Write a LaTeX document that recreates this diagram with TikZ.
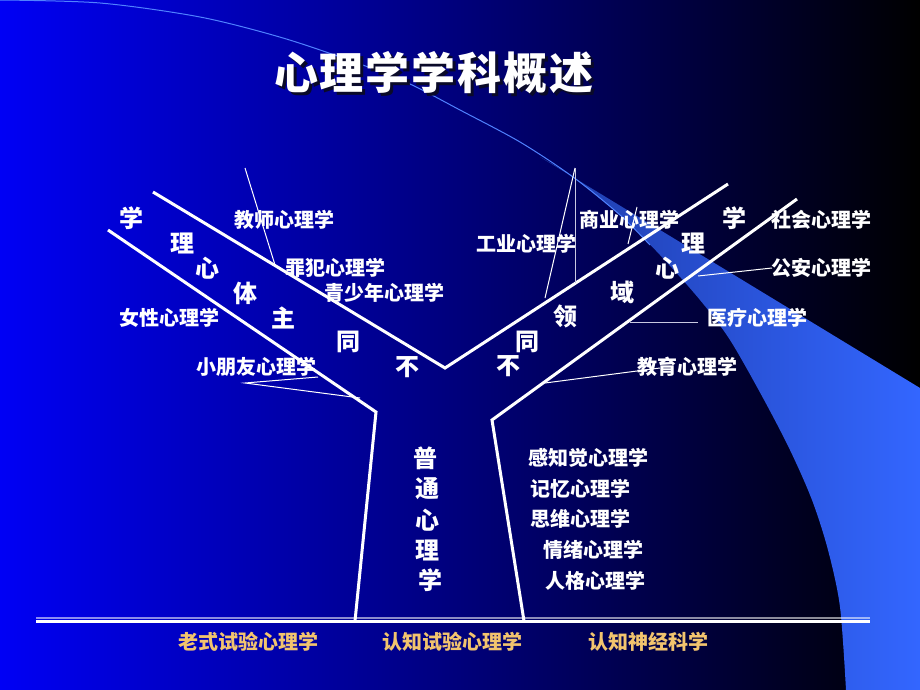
\documentclass[tikz,border=0pt]{standalone}
\usepackage{fontspec}
\newfontfamily\cjk{Noto Sans CJK SC}
\definecolor{bgL}{RGB}{0,0,245}
\definecolor{bgM}{RGB}{0,0,165}
\definecolor{bandL}{RGB}{30,60,170}
\definecolor{bandR}{RGB}{51,102,255}
\definecolor{bandLine}{RGB}{80,130,255}
\definecolor{goldc}{RGB}{242,196,110}
\definecolor{thinGray}{RGB}{200,200,225}
\definecolor{shadowc}{RGB}{10,10,40}
\newcommand{\ttltext}{心\kern2pt 理\kern2pt 学\kern2pt 学\kern2pt 科\kern2pt 概\kern2pt 述}
\begin{document}
\begin{tikzpicture}[x=1pt,y=-1pt,
  lbl/.style={text=white,font=\cjk\bfseries\fontsize{20}{20}\selectfont,inner sep=0pt},
  big/.style={text=white,font=\cjk\bfseries\fontsize{24}{24}\selectfont,inner sep=0pt},
  gold/.style={text=goldc,font=\cjk\bfseries\fontsize{20}{20}\selectfont,inner sep=0pt},
  ttl/.style={font=\cjk\bfseries\fontsize{44}{44}\selectfont,inner sep=0pt},
  trunk/.style={white,line width=3pt,line join=miter},
  thin/.style={white,line width=1pt},
  thing/.style={thinGray,line width=1pt}]
\useasboundingbox (0,0) rectangle (920,690);
% background
\shade[left color=bgL,middle color=bgM,right color=black] (0,0) rectangle (920,690);
% light band
\shade[left color=bandL,right color=bandR] (540,157) -- (920,388) -- (920,690) -- (846,690)
  -- plot[smooth] coordinates {(846,690) (840,607) (828,550) (812,500) (790,450) (763,398) (730,340) (700,300) (660,255) (620,215) (573,177) (540,157)} -- cycle;
\draw[bandLine,line width=1pt] plot[smooth] coordinates {(0,0) (100,3) (200,17) (283,38) (360,64) (410,84) (460,110) (520,142) (573,177) (620,215) (650,245)};
% title with shadow
\node[ttl,text=white] (title) at (434,74) {\makebox[0pt][l]{\hspace{3pt}\raisebox{-3pt}{\textcolor{shadowc}{\ttltext}}}\ttltext};
% tree coordinates
\coordinate (A1) at (108,230); \coordinate (A2) at (376,412); \coordinate (A3) at (355,621);
\coordinate (B1) at (153,192); \coordinate (V) at (445,368); \coordinate (B2) at (728,184);
\coordinate (C1) at (797,199); \coordinate (C2) at (492,420); \coordinate (C3) at (524,621);
\coordinate (L1) at (36,618); \coordinate (R1) at (870,618);
\coordinate (L2) at (36,621.5); \coordinate (R2) at (870,621.5);
\draw[white,opacity=0.55,line width=2pt] (L1) -- (R1);
\draw[white,line width=2.2pt] (L2) -- (R2);
\draw[trunk] (A1) -- (A2) -- (A3);
\draw[trunk] (B1) -- (V) -- (B2);
\draw[trunk] (C1) -- (C2) -- (C3);
% pointer lines
\coordinate (t1) at (245,168); \coordinate (t2) at (275,265);
\coordinate (k0) at (245,383); \coordinate (k1) at (318,377); \coordinate (k2) at (360,398);
\coordinate (g0) at (575,168); \coordinate (g1) at (545,298); \coordinate (g2) at (575,283);
\coordinate (s1) at (637,207); \coordinate (s2) at (628,244);
\coordinate (a1) at (698,276); \coordinate (a2) at (772,268);
\coordinate (y1) at (630,322); \coordinate (y2) at (698,322);
\coordinate (e1) at (545,383); \coordinate (e2) at (660,368);
\draw[thin] (t1) -- (t2);
\draw[thin] (k1) -- (k0) -- (k2);
\draw[thin] (g0) -- (g1);
\draw[thing] (g0) -- (g2);
\draw[thin] (s1) -- (s2);
\draw[thin] (a1) -- (a2);
\draw[thing] (y1) -- (y2);
\draw[thin] (e1) -- (e2);
% labels
\node[lbl] (jiaoshi) at (284,220) {教师心理学};
\node[lbl] (zuifan) at (335,268) {罪犯心理学};
\node[lbl] (qingshao) at (384,293) {青少年心理学};
\node[lbl] (nvxing) at (169,318) {女性心理学};
\node[lbl] (xiaopy) at (256,367) {小朋友心理学};
\node[lbl] (shangye) at (629,220) {商业心理学};
\node[lbl] (gongye) at (526,244) {工业心理学};
\node[lbl] (shehui) at (821,220) {社会心理学};
\node[lbl] (gongan) at (821,268) {公安心理学};
\node[lbl] (yiliao) at (757,318) {医疗心理学};
\node[lbl] (jiaoyu) at (687,367) {教育心理学};
\node[lbl] (ganzhi) at (588,458) {感知觉心理学};
\node[lbl] (jiyi) at (580,489) {记忆心理学};
\node[lbl] (siwei) at (580,519) {思维心理学};
\node[lbl] (qingxu) at (593,550) {情绪心理学};
\node[lbl] (renge) at (595,581) {人格心理学};
% left branch characters
\node[big] (l1) at (131,218) {学};
\node[big] (l2) at (182,243) {理};
\node[big] (l3) at (207,268) {心};
\node[big] (l4) at (245,293) {体};
\node[big] (l5) at (283,318) {主};
\node[big] (l6) at (348,342) {同};
\node[big] (l7) at (407,367) {不};
% right branch characters
\node[big] (r1) at (508,366) {不};
\node[big] (r2) at (527,342) {同};
\node[big] (r3) at (565,316) {领};
\node[big] (r4) at (622,292) {域};
\node[big] (r5) at (667,268) {心};
\node[big] (r6) at (693,243) {理};
\node[big] (r7) at (734,218) {学};
% trunk characters
\node[big] (p1) at (425,458) {普};
\node[big] (p2) at (427,489) {通};
\node[big] (p3) at (427,520) {心};
\node[big] (p4) at (427,550) {理};
\node[big] (p5) at (430,580) {学};
% bottom
\node[gold] (b1) at (248,642) {老式试验心理学};
\node[gold] (b2) at (452,642) {认知试验心理学};
\node[gold] (b3) at (648,642) {认知神经科学};
\end{tikzpicture}
\end{document}
